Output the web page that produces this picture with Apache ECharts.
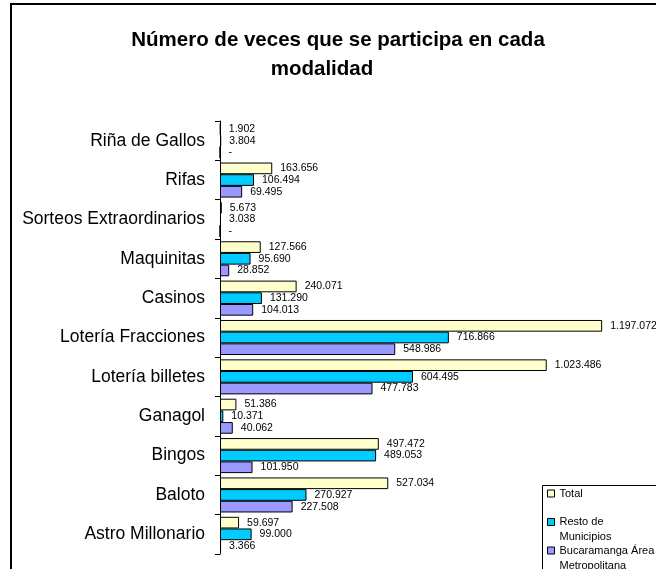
<!DOCTYPE html>
<html>
<head>
<meta charset="utf-8">
<script src="https://cdn.jsdelivr.net/npm/echarts@6/dist/echarts.min.js"></script>
<style>
html,body{margin:0;padding:0;background:#fff;}
#chart{width:656px;height:569px;}
</style>
</head>
<body>
<div id="chart"></div>
<script>
var categories = ['Riña de Gallos','Rifas','Sorteos Extraordinarios','Maquinitas','Casinos','Lotería Fracciones','Lotería billetes','Ganagol','Bingos','Baloto','Astro Millonario'];
var total = [1902,163656,5673,127566,240071,1197072,1023486,51386,497472,527034,59697];
var resto = [3804,106494,3038,95690,131290,716866,604495,10371,489053,270927,99000];
var buca = [0,69495,0,28852,104013,548986,477783,40062,101950,227508,3366];
var seriesNames = ['Total','Resto de Municipios','Bucaramanga Área Metropolitana'];
// leading empty line keeps the first text line level with the marker
var legendLabels = ['Total','\nResto de\nMunicipios','\nBucaramanga Área\nMetropolitana'];
var colors = ['#FFFFCC','#00CCFF','#9999FF'];

var font = '"Liberation Sans", Arial, sans-serif';

function fmt(v){
	if(!v) return '-';
	return String(v).replace(/\B(?=(\d{3})+(?!\d))/g,'.');
}

function barSeries(i,data){
	return {
		name: seriesNames[i],
		type: 'bar',
		data: data,
		barGap: '0%',
		barCategoryGap: '11%',
		itemStyle: {color: colors[i], borderColor: '#000', borderWidth: 1},
		label: {
			show: true,
			position: 'right',
			distance: 8,
			fontSize: 10.5,
			fontFamily: font,
			color: '#000',
			formatter: function(p){ return fmt(p.value); }
		}
	};
}

function legendItem(i,top){
	return {
		data: [seriesNames[i]],
		left: 547,
		top: top,
		padding: 0,
		itemWidth: 7,
		itemHeight: 7,
		icon: 'rect',
		selectedMode: false,
		formatter: function(){ return legendLabels[i]; },
		itemStyle: {borderColor: '#000', borderWidth: 1},
		textStyle: {fontSize: 11, fontFamily: font, color: '#000', lineHeight: 15}
	};
}

var chart = echarts.init(document.getElementById('chart'));
chart.setOption({
	animation: false,
	title: [{
		text: 'Número de veces que se participa en cada',
		left: 338, top: 30, padding: 0, textAlign: 'center',
		textStyle: {fontSize: 20.5, fontWeight: 'bold', fontFamily: font, color: '#000'}
	},{
		text: 'modalidad',
		left: 322, top: 59, padding: 0, textAlign: 'center',
		textStyle: {fontSize: 20.5, fontWeight: 'bold', fontFamily: font, color: '#000'}
	}],
	graphic: [{
		type: 'rect',
		shape: {x: 11, y: 4, width: 700, height: 700},
		style: {fill: 'none', stroke: '#000', lineWidth: 2}
	},{
		type: 'rect',
		shape: {x: 542.5, y: 485.5, width: 200, height: 200},
		style: {fill: '#fff', stroke: '#000', lineWidth: 1}
	}],
	legend: [
		legendItem(0,486),
		legendItem(1,499.5),
		legendItem(2,528)
	],
	grid: {left: 220, right: 21, top: 121, bottom: 15},
	xAxis: {type: 'value', min: 0, max: 1300000, show: false},
	yAxis: {
		type: 'category',
		inverse: true,
		data: categories,
		axisLine: {show: true, lineStyle: {color: '#000', width: 1}},
		axisTick: {show: true, inside: false, length: 5, alignWithLabel: false, lineStyle: {color: '#000', width: 1}},
		axisLabel: {fontSize: 17.5, fontFamily: font, color: '#000', margin: 15}
	},
	series: [barSeries(0,total), barSeries(1,resto), barSeries(2,buca)]
});
</script>
</body>
</html>
